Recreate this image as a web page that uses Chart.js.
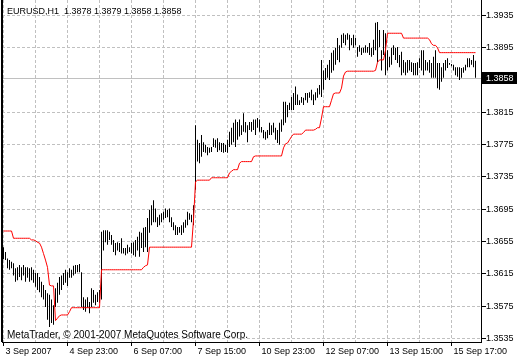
<!DOCTYPE html>
<html>
<head>
<meta charset="utf-8">
<script src="https://cdn.jsdelivr.net/npm/chart.js@4.4.1/dist/chart.umd.min.js"></script>
<style>
  html, body { margin: 0; padding: 0; background: #fff; }
  canvas { display: block; }
</style>
</head>
<body>
<canvas id="chart" width="520" height="360"></canvas>
<script>
// header / footer text
const symbolTitle = 'EURUSD,H1  1.3878 1.3879 1.3858 1.3858';
const copyright = 'MetaTrader, \u00A9 2001-2007 MetaQuotes Software Corp.';

// time labels, one every 32 bars
const timeLabels = ['3 Sep 2007', '4 Sep 23:00', '6 Sep 07:00', '7 Sep 15:00',
  '10 Sep 23:00', '12 Sep 07:00', '13 Sep 15:00', '15 Sep 17:00'];

// price scale labels (1.3855 is covered by the bid label)
const priceTicks = [1.3535, 1.3575, 1.3615, 1.3655, 1.3695, 1.3735, 1.3775, 1.3815, 1.3895, 1.3935];
const lastClose = 1.3858;

// H1 bars, high and low
const highs = [
  1.3648, 1.3642, 1.3634, 1.3632, 1.3630, 1.3628, 1.3622, 1.3623, 1.3626, 1.3623,
  1.3626, 1.3623, 1.3623, 1.3622, 1.3623, 1.3620, 1.3616, 1.3616, 1.3611, 1.3605,
  1.3601, 1.3595, 1.3591, 1.3589, 1.3583, 1.3576, 1.3597, 1.3604, 1.3611, 1.3613,
  1.3616, 1.3620, 1.3617, 1.3622, 1.3620, 1.3625, 1.3626, 1.3626, 1.3627, 1.3617,
  1.3586, 1.3583, 1.3586, 1.3580, 1.3597, 1.3595, 1.3589, 1.3592, 1.3595, 1.3667,
  1.3669, 1.3669, 1.3669, 1.3667, 1.3663, 1.3657, 1.3653, 1.3654, 1.3653, 1.3659,
  1.3647, 1.3647, 1.3651, 1.3648, 1.3653, 1.3654, 1.3657, 1.3661, 1.3667, 1.3666,
  1.3672, 1.3673, 1.3684, 1.3694, 1.3700, 1.3706, 1.3696, 1.3685, 1.3688, 1.3690,
  1.3692, 1.3696, 1.3694, 1.3696, 1.3685, 1.3679, 1.3675, 1.3673, 1.3673, 1.3675,
  1.3679, 1.3682, 1.3692, 1.3690, 1.3688, 1.3700, 1.3799, 1.3781, 1.3777, 1.3787,
  1.3778, 1.3775, 1.3772, 1.3771, 1.3772, 1.3783, 1.3781, 1.3783, 1.3778, 1.3777,
  1.3777, 1.3775, 1.3781, 1.3791, 1.3796, 1.3802, 1.3806, 1.3803, 1.3806, 1.3799,
  1.3814, 1.3803, 1.3799, 1.3803, 1.3803, 1.3806, 1.3806, 1.3808, 1.3806, 1.3797,
  1.3793, 1.3791, 1.3793, 1.3802, 1.3799, 1.3802, 1.3796, 1.3793, 1.3802, 1.3806,
  1.3828, 1.3828, 1.3824, 1.3827, 1.3834, 1.3839, 1.3847, 1.3837, 1.3830, 1.3834,
  1.3833, 1.3839, 1.3839, 1.3840, 1.3843, 1.3837, 1.3840, 1.3845, 1.3849, 1.3880,
  1.3867, 1.3870, 1.3874, 1.3880, 1.3889, 1.3892, 1.3895, 1.3907, 1.3898, 1.3911,
  1.3913, 1.3911, 1.3913, 1.3911, 1.3907, 1.3911, 1.3907, 1.3896, 1.3898, 1.3895,
  1.3895, 1.3898, 1.3896, 1.3901, 1.3895, 1.3905, 1.3926, 1.3927, 1.3917, 1.3892,
  1.3917, 1.3913, 1.3892, 1.3884, 1.3895, 1.3898, 1.3895, 1.3896, 1.3886, 1.3890,
  1.3880, 1.3877, 1.3880, 1.3880, 1.3877, 1.3876, 1.3876, 1.3877, 1.3882, 1.3892,
  1.3892, 1.3880, 1.3877, 1.3880, 1.3876, 1.3884, 1.3892, 1.3876, 1.3876, 1.3871,
  1.3876, 1.3880, 1.3882, 1.3876, 1.3875, 1.3874, 1.3871, 1.3871, 1.3871, 1.3870,
  1.3871, 1.3874, 1.3882, 1.3882, 1.3880, 1.3886, 1.3879
];
const lows = [
  1.3633, 1.3632, 1.3622, 1.3620, 1.3622, 1.3613, 1.3605, 1.3607, 1.3611, 1.3607,
  1.3613, 1.3605, 1.3610, 1.3605, 1.3607, 1.3604, 1.3599, 1.3595, 1.3592, 1.3586,
  1.3583, 1.3574, 1.3558, 1.3549, 1.3554, 1.3552, 1.3574, 1.3579, 1.3589, 1.3595,
  1.3601, 1.3604, 1.3600, 1.3610, 1.3610, 1.3613, 1.3615, 1.3617, 1.3617, 1.3574,
  1.3570, 1.3568, 1.3573, 1.3566, 1.3574, 1.3579, 1.3576, 1.3580, 1.3579, 1.3583,
  1.3644, 1.3654, 1.3651, 1.3657, 1.3651, 1.3642, 1.3638, 1.3644, 1.3642, 1.3640,
  1.3640, 1.3638, 1.3640, 1.3642, 1.3640, 1.3638, 1.3636, 1.3644, 1.3636, 1.3647,
  1.3642, 1.3648, 1.3642, 1.3666, 1.3675, 1.3679, 1.3679, 1.3673, 1.3675, 1.3679,
  1.3682, 1.3684, 1.3685, 1.3679, 1.3673, 1.3669, 1.3663, 1.3663, 1.3666, 1.3663,
  1.3666, 1.3672, 1.3675, 1.3682, 1.3679, 1.3675, 1.3719, 1.3754, 1.3752, 1.3760,
  1.3766, 1.3765, 1.3762, 1.3765, 1.3766, 1.3772, 1.3771, 1.3766, 1.3768, 1.3766,
  1.3765, 1.3766, 1.3765, 1.3772, 1.3775, 1.3778, 1.3772, 1.3781, 1.3785, 1.3787,
  1.3791, 1.3790, 1.3778, 1.3793, 1.3791, 1.3793, 1.3787, 1.3796, 1.3791, 1.3790,
  1.3783, 1.3781, 1.3783, 1.3787, 1.3787, 1.3790, 1.3781, 1.3777, 1.3775, 1.3791,
  1.3799, 1.3802, 1.3809, 1.3818, 1.3818, 1.3818, 1.3824, 1.3824, 1.3824, 1.3827,
  1.3824, 1.3830, 1.3827, 1.3833, 1.3830, 1.3824, 1.3830, 1.3833, 1.3837, 1.3834,
  1.3843, 1.3855, 1.3858, 1.3855, 1.3864, 1.3867, 1.3874, 1.3880, 1.3877, 1.3895,
  1.3901, 1.3898, 1.3905, 1.3892, 1.3898, 1.3895, 1.3898, 1.3884, 1.3890, 1.3886,
  1.3889, 1.3889, 1.3889, 1.3886, 1.3884, 1.3886, 1.3892, 1.3877, 1.3896, 1.3867,
  1.3886, 1.3861, 1.3867, 1.3871, 1.3874, 1.3886, 1.3880, 1.3876, 1.3871, 1.3861,
  1.3864, 1.3861, 1.3864, 1.3867, 1.3865, 1.3861, 1.3861, 1.3861, 1.3870, 1.3867,
  1.3861, 1.3867, 1.3867, 1.3864, 1.3858, 1.3858, 1.3858, 1.3845, 1.3843, 1.3853,
  1.3858, 1.3867, 1.3870, 1.3874, 1.3872, 1.3867, 1.3861, 1.3859, 1.3855, 1.3858,
  1.3864, 1.3867, 1.3871, 1.3871, 1.3874, 1.3871, 1.3858
];

// red trailing level, one value per bar
const stopLine = [
  1.3668, 1.3668, 1.3668, 1.3668, 1.3668, 1.3659, 1.3659, 1.3659, 1.3659, 1.3659,
  1.3659, 1.3659, 1.3659, 1.3659, 1.3657, 1.3657, 1.3656, 1.3654, 1.3653, 1.3648,
  1.3640, 1.3632, 1.3623, 1.3601, 1.3600, 1.3600, 1.3557, 1.3560, 1.3563, 1.3564,
  1.3564, 1.3564, 1.3564, 1.3568, 1.3573, 1.3573, 1.3573, 1.3573, 1.3573, 1.3573,
  1.3573, 1.3573, 1.3573, 1.3573, 1.3573, 1.3573, 1.3573, 1.3573, 1.3573, 1.3620,
  1.3620, 1.3620, 1.3620, 1.3620, 1.3620, 1.3620, 1.3620, 1.3620, 1.3620, 1.3620,
  1.3620, 1.3620, 1.3620, 1.3620, 1.3620, 1.3620, 1.3620, 1.3620, 1.3620, 1.3620,
  1.3623, 1.3625, 1.3626, 1.3648, 1.3648, 1.3648, 1.3648, 1.3648, 1.3648, 1.3648,
  1.3648, 1.3648, 1.3648, 1.3648, 1.3648, 1.3648, 1.3648, 1.3648, 1.3648, 1.3648,
  1.3648, 1.3648, 1.3648, 1.3648, 1.3648, 1.3682, 1.3729, 1.3731, 1.3731, 1.3731,
  1.3731, 1.3731, 1.3731, 1.3731, 1.3734, 1.3734, 1.3734, 1.3734, 1.3734, 1.3734,
  1.3734, 1.3734, 1.3734, 1.3740, 1.3742, 1.3744, 1.3744, 1.3744, 1.3752, 1.3754,
  1.3754, 1.3754, 1.3754, 1.3754, 1.3754, 1.3760, 1.3761, 1.3761, 1.3761, 1.3761,
  1.3761, 1.3761, 1.3761, 1.3761, 1.3761, 1.3761, 1.3761, 1.3761, 1.3761, 1.3761,
  1.3771, 1.3776, 1.3777, 1.3781, 1.3785, 1.3788, 1.3788, 1.3788, 1.3788, 1.3788,
  1.3790, 1.3793, 1.3793, 1.3793, 1.3793, 1.3793, 1.3794, 1.3796, 1.3796, 1.3808,
  1.3822, 1.3822, 1.3822, 1.3822, 1.3830, 1.3838, 1.3839, 1.3839, 1.3839, 1.3845,
  1.3860, 1.3865, 1.3866, 1.3866, 1.3866, 1.3866, 1.3866, 1.3866, 1.3866, 1.3866,
  1.3866, 1.3866, 1.3866, 1.3866, 1.3866, 1.3866, 1.3867, 1.3877, 1.3880, 1.3880,
  1.3880, 1.3892, 1.3913, 1.3913, 1.3913, 1.3913, 1.3913, 1.3913, 1.3913, 1.3913,
  1.3907, 1.3907, 1.3907, 1.3907, 1.3907, 1.3907, 1.3907, 1.3907, 1.3907, 1.3907,
  1.3907, 1.3907, 1.3907, 1.3905, 1.3900, 1.3898, 1.3898, 1.3895, 1.3889, 1.3889,
  1.3889, 1.3889, 1.3889, 1.3889, 1.3889, 1.3889, 1.3889, 1.3889, 1.3889, 1.3889,
  1.3889, 1.3889, 1.3889, 1.3889, 1.3889, 1.3889, 1.3889
];

const FONT = "'Liberation Sans', Arial, sans-serif";
const GRID = '#c0c0c0';
const X_MIN = -0.75, X_MAX = 238.75;
const Y_MIN = 1.35305, Y_MAX = 1.39542;

const barData = highs.map((h, i) => ({ x: i, y: [lows[i], h] }));
const stopData = stopLine.map((v, i) => ({ x: i, y: v }));

// MetaTrader style decorations: frame, bid line, bid label, texts
const mtPlugin = {
  id: 'mt',
  beforeDatasetsDraw(chart) {
    const { ctx, chartArea: a, scales: { y } } = chart;
    const py = Math.round(y.getPixelForValue(lastClose)) + 0.5;
    ctx.save();
    ctx.strokeStyle = GRID;
    ctx.lineWidth = 1;
    ctx.beginPath();
    ctx.moveTo(a.left, py);
    ctx.lineTo(a.right, py);
    ctx.stroke();
    ctx.restore();
  },
  afterDraw(chart) {
    const { ctx, chartArea: a, scales: { y } } = chart;
    const py = Math.round(y.getPixelForValue(lastClose));
    ctx.save();
    ctx.fillStyle = '#000';
    ctx.fillRect(1, 0, 2, a.bottom);
    // bid label
    ctx.fillRect(a.right + 1, py - 6, 35, 12);
    ctx.font = '9px ' + FONT;
    ctx.textBaseline = 'middle';
    ctx.fillStyle = '#fff';
    ctx.fillText(lastClose.toFixed(4), a.right + 5, py + 0.5);
    // texts
    ctx.fillStyle = '#000';
    ctx.textBaseline = 'alphabetic';
    ctx.fillText(symbolTitle, 7, 13.5);
    ctx.font = '10px ' + FONT;
    ctx.fillText(copyright, 7, 338);
    ctx.restore();
  }
};

new Chart(document.getElementById('chart'), {
  type: 'bar',
  data: {
    datasets: [
      {
        type: 'line',
        data: stopData,
        borderColor: '#ff0000',
        borderWidth: 1,
        pointRadius: 0,
        tension: 0,
        order: 0
      },
      {
        type: 'bar',
        data: barData,
        backgroundColor: '#000',
        borderWidth: 0,
        barThickness: 1,
        inflateAmount: 0,
        order: 1
      }
    ]
  },
  options: {
    responsive: false,
    animation: false,
    devicePixelRatio: 1,
    layout: { padding: { left: 2, top: 0, right: 0, bottom: 0 } },
    plugins: { legend: { display: false }, tooltip: { enabled: false } },
    scales: {
      x: {
        type: 'linear',
        offset: false,
        min: X_MIN,
        max: X_MAX,
        afterBuildTicks(scale) {
          // empty edge ticks keep the labels from padding the chart area
          const t = [{ value: X_MIN }];
          for (let v = 0; v <= 224; v += 16) t.push({ value: v });
          t.push({ value: X_MAX });
          scale.ticks = t;
        },
        afterFit(scale) {
          scale.height = 18;
        },
        ticks: {
          autoSkip: false,
          maxRotation: 0,
          align: 'start',
          labelOffset: 2,
          padding: 0,
          color: '#000',
          font: { family: FONT, size: 9 },
          callback: (v) => (Number.isInteger(v) && v % 32 === 0 ? timeLabels[v / 32] : '')
        },
        grid: {
          offset: false,
          color: (c) => (c.tick && Number.isInteger(c.tick.value) ? GRID : 'rgba(0,0,0,0)'),
          tickLength: 4,
          tickColor: (c) => (c.tick && c.tick.value % 32 === 0 ? '#000' : 'rgba(0,0,0,0)'),
          tickBorderDash: []
        },
        border: { color: '#000', width: 1, dash: [3, 2] }
      },
      y: {
        position: 'right',
        min: Y_MIN,
        max: Y_MAX,
        afterBuildTicks(scale) {
          scale.ticks = [Y_MIN, ...priceTicks, Y_MAX].map((v) => ({ value: v }));
        },
        afterFit(scale) {
          scale.width = 39;
          scale.paddingTop = 0;
          scale.paddingBottom = 0;
        },
        ticks: {
          padding: 0,
          color: '#000',
          font: { family: FONT, size: 9 },
          callback: (v) => (priceTicks.includes(v) ? v.toFixed(4) : null)
        },
        grid: {
          color: (c) => (c.tick && priceTicks.includes(c.tick.value) ? GRID : 'rgba(0,0,0,0)'),
          tickLength: 5,
          tickColor: (c) => (c.tick && priceTicks.includes(c.tick.value) ? '#000' : 'rgba(0,0,0,0)'),
          tickBorderDash: []
        },
        border: { color: '#000', width: 1, dash: [3, 2] }
      }
    }
  },
  plugins: [mtPlugin]
});
</script>
</body>
</html>
